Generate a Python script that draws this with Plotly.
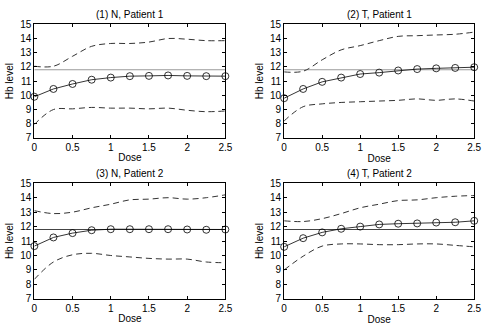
import plotly.graph_objects as go

dose = [0, 0.25, 0.5, 0.75, 1.0, 1.25, 1.5, 1.75, 2.0, 2.25, 2.5]
threshold = 11.8
titles = ["(1) N, Patient 1", "(2) T, Patient 1", "(3) N, Patient 2", "(4) T, Patient 2"]

mean_1 = [9.9, 10.45, 10.8, 11.1, 11.25, 11.35, 11.37, 11.4, 11.37, 11.35, 11.35]
upper_1 = [12.05, 12.05, 12.75, 13.45, 13.65, 13.65, 13.75, 14.0, 13.95, 13.85, 13.85]
lower_1 = [7.95, 9.0, 9.05, 9.15, 9.1, 9.1, 9.05, 9.1, 8.95, 8.85, 8.9]

mean_2 = [9.8, 10.45, 10.95, 11.25, 11.5, 11.6, 11.75, 11.85, 11.9, 11.93, 11.98]
upper_2 = [11.65, 11.7, 12.5, 13.2, 13.5, 13.85, 14.15, 14.2, 14.25, 14.3, 14.45]
lower_2 = [8.2, 9.2, 9.4, 9.5, 9.55, 9.6, 9.65, 9.75, 9.65, 9.75, 9.6]

mean_3 = [10.65, 11.25, 11.55, 11.75, 11.82, 11.82, 11.82, 11.82, 11.8, 11.78, 11.8]
upper_3 = [13.1, 12.9, 13.0, 13.3, 13.55, 13.85, 13.9, 14.0, 13.9, 14.0, 14.2]
lower_3 = [8.35, 9.55, 10.05, 10.15, 10.0, 9.9, 9.8, 9.75, 9.75, 9.55, 9.5]

mean_4 = [10.6, 11.2, 11.6, 11.85, 12.0, 12.15, 12.2, 12.22, 12.28, 12.3, 12.4]
upper_4 = [12.4, 12.35, 12.55, 12.9, 13.3, 13.55, 13.8, 13.85, 14.0, 14.1, 14.15]
lower_4 = [9.0, 9.95, 10.65, 10.8, 10.8, 10.75, 10.75, 10.8, 10.8, 10.7, 10.6]

panels = [(mean_1, upper_1, lower_1), (mean_2, upper_2, lower_2),
          (mean_3, upper_3, lower_3), (mean_4, upper_4, lower_4)]

W, H = 491, 327
xdoms = [(32 / W, 227 / W), (287 / W, 481 / W)]
ydoms = [(1 - 137 / H, 1 - 19 / H), (1 - 304 / H, 1 - 184 / H)]
thr_colors = ["#9a9a9a", "#9a9a9a", "#444444", "#444444"]

FONT = "Liberation Sans, Arial, sans-serif"
fig = go.Figure()
layout = dict(width=W, height=H, margin=dict(l=0, r=0, t=0, b=0),
              paper_bgcolor="white", plot_bgcolor="white", showlegend=False,
              font=dict(family=FONT, size=10, color="black"))
annotations = []

for i, (m, u, l) in enumerate(panels):
    k = i + 1
    xa = "x" if k == 1 else f"x{k}"
    ya = "y" if k == 1 else f"y{k}"
    col = i % 2
    row = i // 2
    fig.add_trace(go.Scatter(x=[dose[0], dose[-1]], y=[threshold, threshold], mode="lines",
                             line=dict(color=thr_colors[i], width=1.2), xaxis=xa, yaxis=ya))
    for band in (u, l):
        fig.add_trace(go.Scatter(x=dose, y=band, mode="lines", line_shape="spline",
                                 line=dict(color="#333333", width=1, dash="6px,4px"),
                                 xaxis=xa, yaxis=ya))
    fig.add_trace(go.Scatter(x=dose, y=m, mode="lines+markers",
                             line=dict(color="black", width=0.8),
                             marker=dict(symbol="circle-open", size=7, color="black",
                                         line=dict(width=0.8)),
                             xaxis=xa, yaxis=ya, cliponaxis=False))
    axx = dict(domain=list(xdoms[col]), anchor=ya, range=[0, 2.5],
               tickvals=[0, 0.5, 1, 1.5, 2, 2.5], ticktext=["0", "0.5", "1", "1.5", "2", "2.5"],
               ticks="inside", ticklen=3, tickcolor="black", mirror="ticks",
               showline=True, linecolor="black", linewidth=1, showgrid=False, zeroline=False,
               title=dict(text="Dose", standoff=2, font=dict(size=10)),
               tickfont=dict(size=10))
    axy = dict(domain=list(ydoms[row]), anchor=xa, range=[7, 15],
               tickvals=list(range(7, 16)), ticks="inside", ticklen=3, tickcolor="black",
               mirror="ticks", showline=True, linecolor="black", linewidth=1,
               showgrid=False, zeroline=False,
               title=dict(text="Hb level", standoff=4, font=dict(size=10)),
               tickfont=dict(size=10))
    layout["xaxis" if k == 1 else f"xaxis{k}"] = axx
    layout["yaxis" if k == 1 else f"yaxis{k}"] = axy
    annotations.append(dict(text=titles[i], x=(xdoms[col][0] + xdoms[col][1]) / 2,
                            y=ydoms[row][1], xref="paper", yref="paper",
                            xanchor="center", yanchor="bottom", yshift=2,
                            showarrow=False, font=dict(size=10)))

layout["annotations"] = annotations
fig.update_layout(**layout)
fig.write_html("out.html", config={"displayModeBar": False},
               post_script="document.body.style.margin='0px';")
